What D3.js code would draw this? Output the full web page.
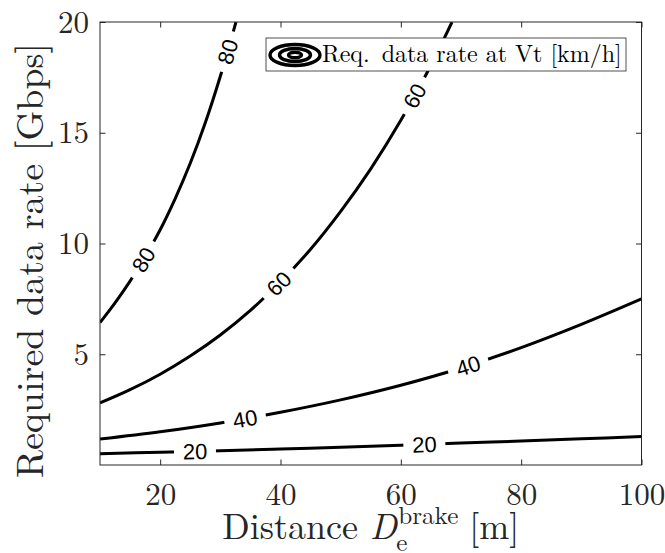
<!DOCTYPE html>
<html><head><meta charset="utf-8">
<script src="https://cdn.jsdelivr.net/npm/d3@7"></script>
<style>body{margin:0;background:#fff} svg{display:block}</style>
</head><body><svg id="c" width="665" height="553"></svg>
<script>
// ---- data ----
const levels = [20, 40, 60, 80];
const dist20 = [10, 20, 30, 40, 50, 60, 70, 80, 90, 100];
const rate20 = [0.51, 0.58, 0.64, 0.72, 0.80, 0.89, 0.99, 1.08, 1.18, 1.29];
const dist40 = [10, 20, 30, 40, 50, 60, 70, 80, 90, 100];
const rate40 = [1.17, 1.50, 1.90, 2.38, 2.94, 3.60, 4.38, 5.30, 6.35, 7.50];
const dist60 = [10, 15, 20, 25, 30, 35, 40, 45, 50, 55, 60, 65, 68.5];
const rate60 = [2.80, 3.40, 4.10, 4.92, 5.87, 6.98, 8.27, 9.74, 11.45, 13.37, 15.56, 18.05, 20.0];
const dist80 = [10, 12.5, 15, 17.5, 20, 22.5, 25, 27.5, 30, 32.6];
const rate80 = [6.43, 7.32, 8.30, 9.40, 10.62, 12.03, 13.62, 15.45, 17.55, 20.0];
const labelAt20 = [25.8, 63.9];
const labelAt40 = [34.1, 71.2];
const labelAt60 = [39.7, 62.3];
const labelAt80 = [17.2, 31.2];
const xTicks = [20, 40, 60, 80, 100];
const yTicks = [5, 10, 15, 20];
const legendText = "Req.\u2002data rate at Vt [km/h]";
const yLabelText = "Required data rate [Gbps]";

const series = [
  {level: levels[0], d: dist20, r: rate20, lab: labelAt20},
  {level: levels[1], d: dist40, r: rate40, lab: labelAt40},
  {level: levels[2], d: dist60, r: rate60, lab: labelAt60},
  {level: levels[3], d: dist80, r: rate80, lab: labelAt80}
];

// ---- layout ----
const L = 100, R = 641.5, T = 22, B = 465;
const axisColor = "#262626";
const lmFont = "'Latin Modern Roman', 'Liberation Serif', serif";
const svg = d3.select("#c");
const x = d3.scaleLinear().domain([10, 100]).range([L, R]);
const y = d3.scaleLinear().domain([0, 20]).range([B, T]);

const defs = svg.append("defs");
defs.append("clipPath").attr("id", "plotClip")
  .append("rect").attr("x", L).attr("y", T).attr("width", R - L).attr("height", B - T);
const mask = defs.append("mask").attr("id", "gapMask")
  .attr("maskUnits", "userSpaceOnUse").attr("x", 0).attr("y", 0).attr("width", 665).attr("height", 553);
mask.append("rect").attr("x", 0).attr("y", 0).attr("width", 665).attr("height", 553).attr("fill", "#fff");

const line = d3.line().x(p => x(p[0])).y(p => y(p[1])).curve(d3.curveCatmullRom.alpha(0.5));

const gClip = svg.append("g").attr("clip-path", "url(#plotClip)");
const gLines = gClip.append("g").attr("mask", "url(#gapMask)");
const gLabels = svg.append("g");

series.forEach(s => {
  const pts = s.d.map((d, i) => [d, s.r[i]]);
  const path = gLines.append("path").datum(pts)
    .attr("d", line).attr("fill", "none").attr("stroke", "#000")
    .attr("stroke-width", 3);
  const node = path.node();
  const len = node.getTotalLength();
  s.lab.forEach(ld => {
    const tx = x(ld);
    let best = 0, bestDx = Infinity;
    for (let t = 0; t <= len; t += 0.5) {
      const p = node.getPointAtLength(t);
      const dx = Math.abs(p.x - tx);
      if (dx < bestDx) { bestDx = dx; best = t; }
    }
    const p = node.getPointAtLength(best);
    const p1 = node.getPointAtLength(Math.max(0, best - 4));
    const p2 = node.getPointAtLength(Math.min(len, best + 4));
    let ang = Math.atan2(p2.y - p1.y, p2.x - p1.x) * 180 / Math.PI;
    if (ang > 90) ang -= 180;
    if (ang < -90) ang += 180;
    mask.append("rect").attr("x", -21).attr("y", -8).attr("width", 42).attr("height", 16)
      .attr("fill", "#000")
      .attr("transform", `translate(${p.x},${p.y}) rotate(${ang})`);
    gLabels.append("text")
      .attr("transform", `translate(${p.x},${p.y}) rotate(${ang})`)
      .attr("text-anchor", "middle").attr("dy", "0.36em")
      .attr("font-family", "'Liberation Sans', Arial, sans-serif")
      .attr("font-size", 22).attr("fill", "#000")
      .text(s.level);
  });
});

// ---- axes ----
const ax = svg.append("g").attr("transform", `translate(0,${B})`)
  .call(d3.axisBottom(x).tickValues(xTicks).tickSizeInner(-5.5).tickSizeOuter(0).tickPadding(0));
const ay = svg.append("g").attr("transform", `translate(${L},0)`)
  .call(d3.axisLeft(y).tickValues(yTicks).tickSizeInner(-5.5).tickSizeOuter(0).tickPadding(0));
const axT = svg.append("g").attr("transform", `translate(0,${T})`)
  .call(d3.axisTop(x).tickValues(xTicks).tickSizeInner(-5.5).tickSizeOuter(0).tickFormat(""));
const ayR = svg.append("g").attr("transform", `translate(${R},0)`)
  .call(d3.axisRight(y).tickValues(yTicks).tickSizeInner(-5.5).tickSizeOuter(0).tickFormat(""));
[ax, ay, axT, ayR].forEach(g => {
  g.select(".domain").remove();
  g.selectAll(".tick line").attr("stroke", axisColor).attr("stroke-width", 1);
});
ax.selectAll(".tick text").attr("y", 40).attr("dy", null)
  .attr("font-family", lmFont).attr("font-size", 31).attr("fill", axisColor);
ay.selectAll(".tick text").attr("x", -11).attr("dy", "0.33em")
  .attr("font-family", lmFont).attr("font-size", 31).attr("fill", axisColor)
  .attr("text-anchor", "end");

svg.append("rect").attr("x", L).attr("y", T).attr("width", R - L).attr("height", B - T)
  .attr("fill", "none").attr("stroke", axisColor).attr("stroke-width", 1);

// ---- legend ----
const lg = svg.append("g");
lg.append("rect").attr("x", 266).attr("y", 38).attr("width", 360).attr("height", 33)
  .attr("fill", "#fff").attr("stroke", axisColor).attr("stroke-width", 0.8);
[[25, 10.5], [15.5, 6.5], [6.5, 2.8]].forEach(e => {
  lg.append("ellipse").attr("cx", 295).attr("cy", 55).attr("rx", e[0]).attr("ry", e[1])
    .attr("fill", "none").attr("stroke", "#000").attr("stroke-width", 3.4);
});
lg.append("text").attr("x", 322).attr("y", 62)
  .attr("font-family", lmFont).attr("font-size", 24).attr("fill", "#000")
  .text(legendText);

// ---- x label: Distance D_e^brake [m] ----
const fsL = 36, xBase = 539;
const xl = svg.append("g").attr("fill", axisColor).attr("font-family", lmFont);
const t1 = xl.append("text").attr("y", xBase).attr("font-size", fsL).text("Distance");
const tD = xl.append("text").attr("y", xBase).attr("font-size", fsL).attr("font-style", "italic").text("D");
const tSup = xl.append("text").attr("y", xBase - 0.42 * fsL).attr("font-size", 0.7 * fsL).text("brake");
const tSub = xl.append("text").attr("y", xBase + 0.32 * fsL).attr("font-size", 0.7 * fsL).text("e");
const tM = xl.append("text").attr("y", xBase).attr("font-size", fsL).text("[m]");
const w1 = t1.node().getComputedTextLength();
const wD = tD.node().getComputedTextLength();
const wS = Math.max(tSup.node().getComputedTextLength(), tSub.node().getComputedTextLength());
const wM = tM.node().getComputedTextLength();
const sp = 0.333 * fsL;
const total = w1 + sp + wD + wS + sp + wM;
let cx = (L + R) / 2 - total / 2;
t1.attr("x", cx); cx += w1 + sp;
tD.attr("x", cx); cx += wD;
tSup.attr("x", cx + 0.03 * fsL); tSub.attr("x", cx - 0.02 * fsL); cx += wS + sp;
tM.attr("x", cx);

// ---- y label ----
svg.append("text").attr("transform", `translate(43,${(T + B) / 2 + 17}) rotate(-90)`)
  .attr("text-anchor", "middle").attr("fill", axisColor)
  .attr("font-family", lmFont).attr("font-size", 38)
  .text(yLabelText);
</script></body></html>
